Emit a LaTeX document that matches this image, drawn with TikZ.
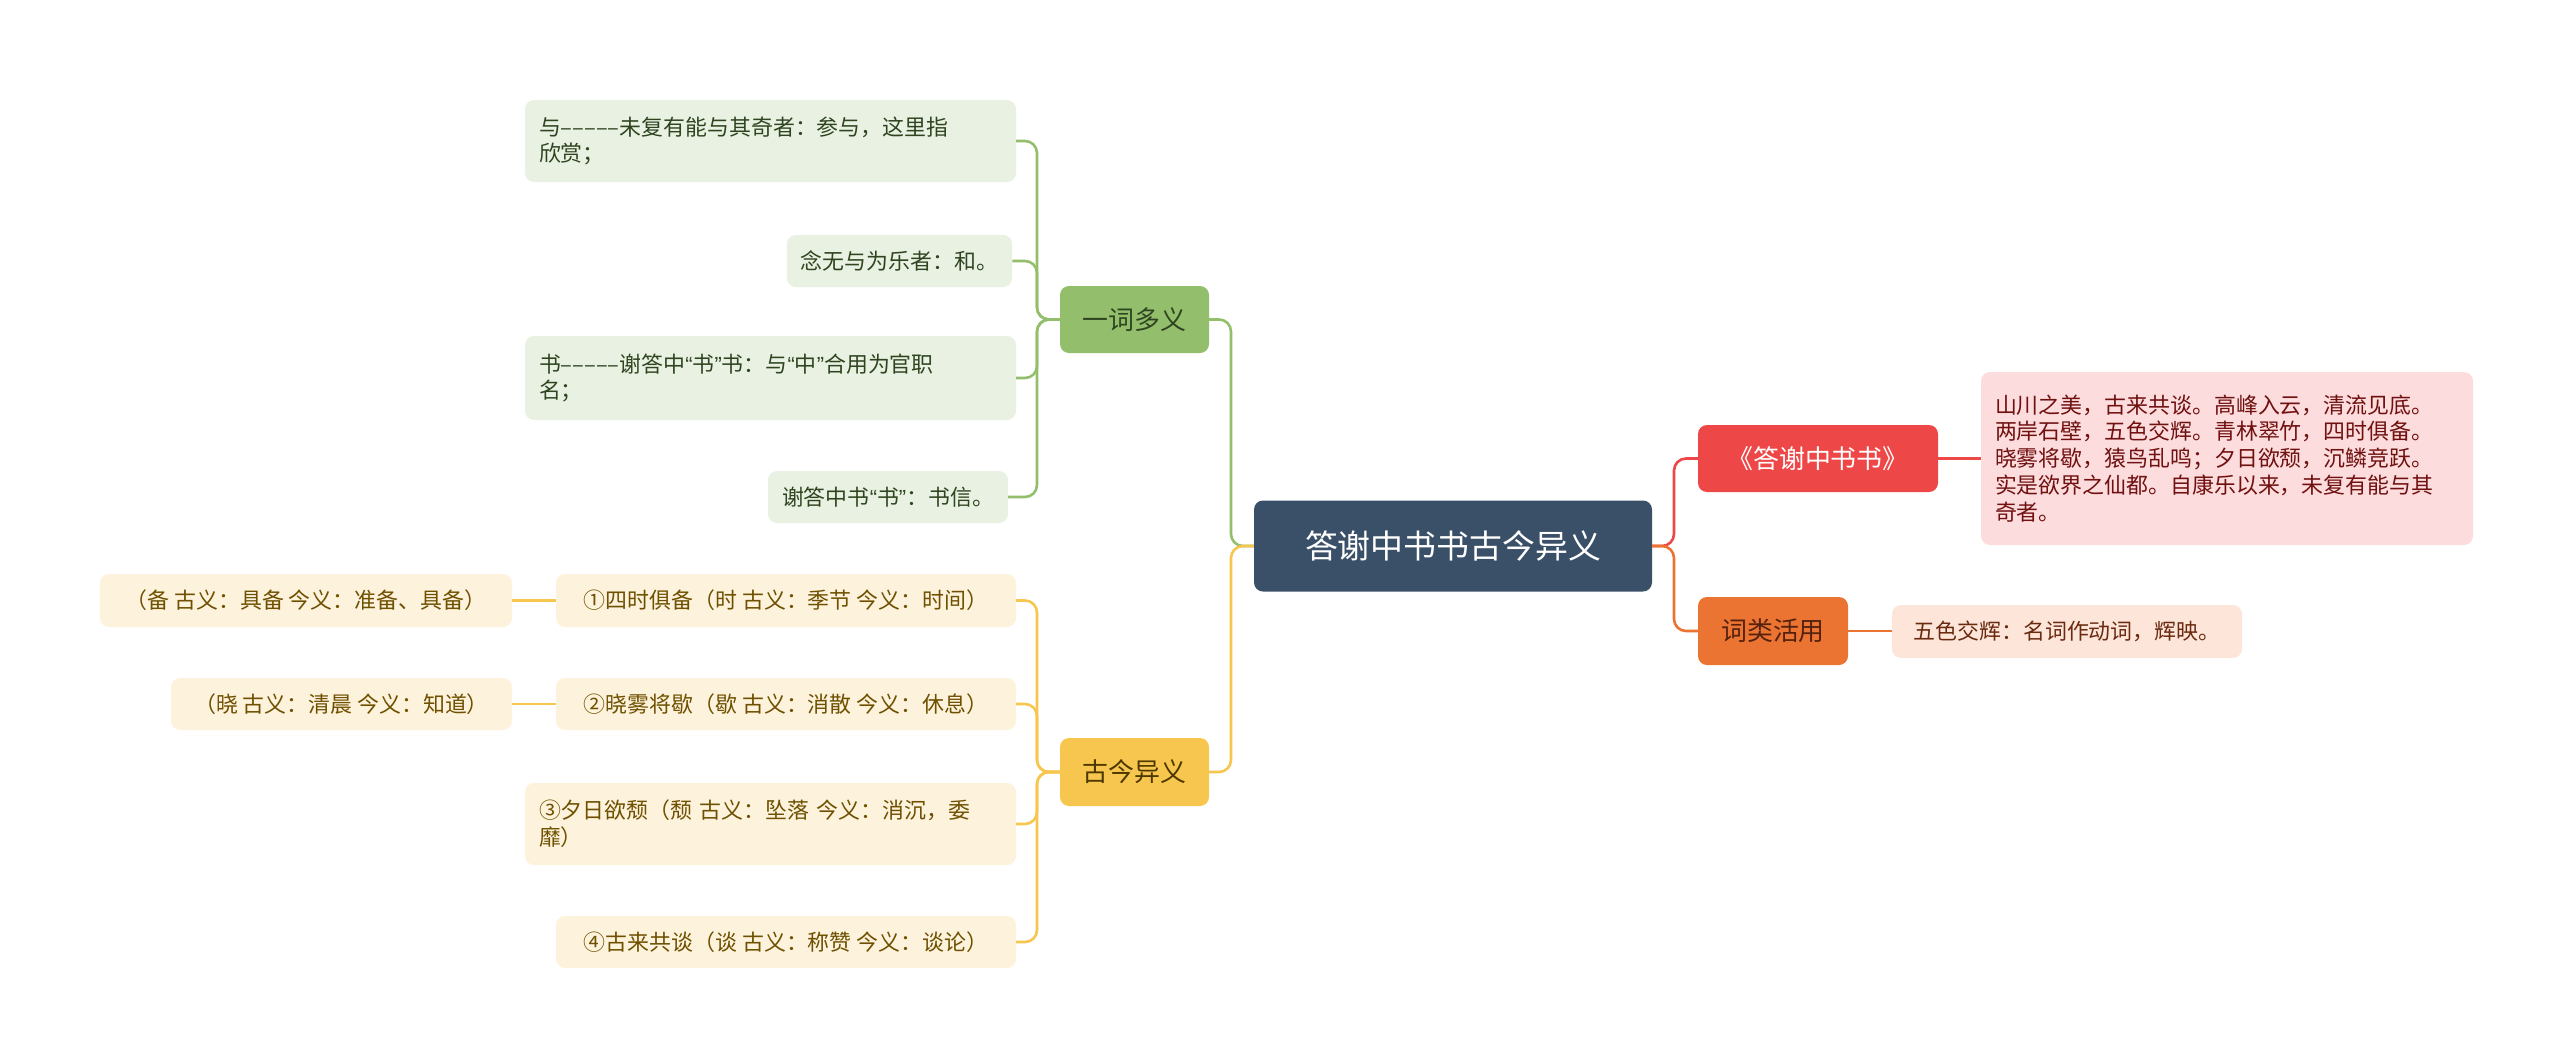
\documentclass[tikz,border=0pt]{standalone}
\usepackage{fontspec}
\setmainfont{Noto Sans CJK SC}
\newfontfamily\latq{Liberation Sans}
\newcommand{\myLQ}{{\latq “}}
\newcommand{\myRQ}{{\latq ”}}
\definecolor{rootc}{HTML}{3A5068}
\definecolor{gc}{HTML}{93BF6C}
\definecolor{gl}{HTML}{E9F1E2}
\definecolor{gt}{HTML}{2F4520}
\definecolor{yc}{HTML}{F7C64E}
\definecolor{yl}{HTML}{FDF2DB}
\definecolor{yt}{HTML}{6E5000}
\definecolor{rc}{HTML}{EE4747}
\definecolor{rl}{HTML}{FCDCDC}
\definecolor{rt}{HTML}{701010}
\definecolor{oc}{HTML}{EC7432}
\definecolor{ol}{HTML}{FDE5D9}
\definecolor{ot}{HTML}{6A2A10}
\tikzset{
  box/.style={rounded corners=9bp, inner xsep=14bp, inner ysep=0bp, align=left, font=\fontsize{22}{27}\selectfont},
  gleaf/.style={box, fill=gl, text=gt},
  yleaf/.style={box, fill=yl, text=yt},
  topic/.style={rounded corners=9bp, inner sep=0bp, align=center, font=\fontsize{26}{30}\selectfont},
  conn/.style={line width=2.6bp, rounded corners=12bp},
}
\begin{document}
\begin{tikzpicture}[x=1bp,y=-1bp]
\useasboundingbox (0,0) rectangle (2560,1063);
% root
\node[topic, fill=rootc, text=white, minimum width=398bp, minimum height=91bp, font=\fontsize{33}{38}\selectfont] (root) at (1453,546) {答谢中书书古今异义};
% groups
\node[topic, fill=gc, text=gt, minimum width=149bp, minimum height=67bp] (g1) at (1134.5,319.5) {一词多义};
\node[topic, fill=yc, text=yt!70!black, minimum width=149bp, minimum height=68bp] (g2) at (1134.5,772) {古今异义};
\node[topic, fill=rc, text=white, minimum width=240bp, minimum height=67bp] (g3) at (1818,458.5) {《答谢中书书》};
\node[topic, fill=oc, text=ot!80!black, minimum width=150bp, minimum height=68bp] (g4) at (1773,631) {词类活用};
% green leaves
\node[gleaf, text width=463bp, minimum height=82bp] (l1) at (770.5,141) {与–––––未复有能与其奇者：参与，这里指\\欣赏；};
\node[gleaf, minimum height=52bp] (l2) at (899.5,261) {念无与为乐者：和。};
\node[gleaf, text width=463bp, minimum height=84bp] (l3) at (770.5,378) {书–––––谢答中\myLQ 书\myRQ 书：与\myLQ 中\myRQ 合用为官职\\名；};
\node[gleaf, minimum height=52bp] (l4) at (888,497) {谢答中书\myLQ 书\myRQ ：书信。};
% yellow leaves
\node[yleaf, minimum width=460bp, minimum height=53bp] (y1) at (786,600.5) {①四时俱备（时 古义：季节 今义：时间）};
\node[yleaf, minimum width=460bp, minimum height=52bp] (y2) at (786,704) {②晓雾将歇（歇 古义：消散 今义：休息）};
\node[yleaf, text width=463bp, minimum height=82bp] (y3) at (770.5,824) {③夕日欲颓（颓 古义：坠落 今义：消沉，委\\靡）};
\node[yleaf, minimum width=460bp, minimum height=52bp] (y4) at (786,942) {④古来共谈（谈 古义：称赞 今义：谈论）};
\node[yleaf, minimum width=412bp, minimum height=53bp] (y1a) at (306,600.5) {（备 古义：具备 今义：准备、具备）};
\node[yleaf, minimum width=341bp, minimum height=52bp] (y2a) at (341.5,704) {（晓 古义：清晨 今义：知道）};
% right leaves
\node[box, fill=rl, text=rt, text width=464bp, minimum height=173bp] (r1) at (2227,458.5) {山川之美，古来共谈。高峰入云，清流见底。\\两岸石壁，五色交辉。青林翠竹，四时俱备。\\晓雾将歇，猿鸟乱鸣；夕日欲颓，沉鳞竞跃。\\实是欲界之仙都。自康乐以来，未复有能与其\\奇者。};
\node[box, fill=ol, text=ot, minimum width=350bp, minimum height=53bp] (r2) at (2067,631.5) {五色交辉：名词作动词，辉映。};
% connectors
\coordinate (jl) at (1231,546);
\coordinate (jr) at (1674,546);
\draw[conn, gc] (root.west) -- (jl) |- (g1.east);
\draw[conn, yc] (root.west) -- (jl) |- (g2.east);
\draw[conn, rc] (root.east) -- (jr) |- (g3.west);
\draw[conn, oc] (root.east) -- (jr) |- (g4.west);
\coordinate (ja) at (1037,319.5);
\foreach \n in {l1,l2,l3,l4} \draw[conn, gc] (g1.west) -- (ja) |- (\n.east);
\coordinate (jb) at (1037,772);
\foreach \n in {y1,y2,y3,y4} \draw[conn, yc] (g2.west) -- (jb) |- (\n.east);
\draw[conn, yc] (y1.west) -- (y1a.east);
\draw[conn, yc] (y2.west) -- (y2a.east);
\draw[conn, rc] (g3.east) -- (g3.east -| r1.west);
\draw[conn, oc] (g4.east) -- (g4.east -| r2.west);
\end{tikzpicture}
\end{document}
